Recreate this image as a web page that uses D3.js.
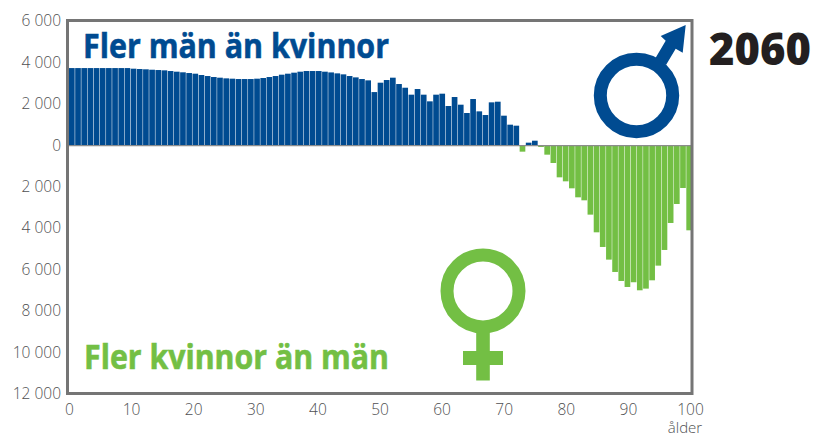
<!DOCTYPE html>
<html>
<head>
<meta charset="utf-8">
<script src="https://cdn.jsdelivr.net/npm/d3@7/dist/d3.min.js"></script>
<style>
body { margin: 0; background: #fff; }
text { font-family: "Open Sans", sans-serif; }
.tick text { font-size: 15.5px; font-weight: 300; fill: #4f5052; }
</style>
</head>
<body>
<div id="chart"></div>
<script>
// surplus per age 0-100, positive = more men, negative = more women
var ages = d3.range(0, 101);
var surplus = [
    3750, 3750, 3750, 3750, 3750, 3750, 3750, 3750, 3750, 3750,
    3720, 3704, 3690, 3670, 3655, 3640, 3607, 3575, 3545, 3510,
    3478, 3414, 3365, 3317, 3285, 3253, 3237, 3220, 3220, 3220,
    3237, 3269, 3317, 3365, 3430, 3478, 3527, 3575, 3607, 3607,
    3607, 3575, 3540, 3494, 3446, 3365, 3300, 3220, 3156, 2590,
    3043, 3172, 3285, 2979, 2800, 2464, 2737, 2464, 2142, 2464,
    2512, 1916, 2351, 1980, 1578, 2254, 1658, 1481, 2093, 2125,
    1449, 1014, 966, -290, 145, 240, -65, -435, -837, -1530,
    -1723, -2061, -2496, -2641, -3333, -4187, -4895, -5507, -6103, -6538,
    -6828, -6600, -6989, -6908, -6506, -5797, -5040, -3736, -2818, -2045,
    -4090
];
var yTicks = [6000, 4000, 2000, 0, -2000, -4000, -6000, -8000, -10000, -12000];
var xTicks = [0, 10, 20, 30, 40, 50, 60, 70, 80, 90, 100];

var width = 814, height = 437;
var blue = '#004b91', green = '#73bf44', frameCol = '#757575';

var svg = d3.select('#chart').append('svg').attr('width', width).attr('height', height).style('display', 'block');

var plotL = 69, plotR = 692, plotT = 21.5, plotB = 394;
var x = d3.scaleBand().domain(ages).range([plotL, plotR]).paddingInner(0.08).paddingOuter(0);
var xAxisScale = d3.scaleLinear().domain([0, 100]).range([69, 690]);
var y = d3.scaleLinear().domain([6000, -12000]).range([plotT, plotB]);

svg.append('g').selectAll('rect.bar').data(surplus).enter().append('rect')
    .attr('class', 'bar')
    .attr('x', function(d, i) { return x(ages[i]); })
    .attr('width', x.bandwidth())
    .attr('y', function(d) { return d > 0 ? y(d) : y(0); })
    .attr('height', function(d) { return Math.abs(y(d) - y(0)); })
    .attr('fill', function(d) { return d > 0 ? blue : green; });

// zero line
svg.append('line').attr('x1', plotL).attr('x2', plotR).attr('y1', y(0)).attr('y2', y(0))
    .attr('stroke', '#8c8c8c').attr('stroke-width', 1.2);

// frame goes over the bars, last bar is cut by it
svg.append('rect').attr('x', plotL - 1.5).attr('y', plotT - 1).attr('width', plotR - plotL + 1.5).attr('height', plotB - plotT + 0.5)
    .attr('fill', 'none').attr('stroke', frameCol).attr('stroke-width', 3);

var yAxis = d3.axisLeft(y).tickValues(yTicks).tickSize(0).tickPadding(7).tickFormat(function(d) {
    return d3.format(',')(Math.abs(d)).replace(',', ' ');
});
svg.append('g').attr('transform', 'translate(' + (plotL - 1) + ',-0.5)').call(yAxis).call(function(g) { g.select('.domain').remove(); });

var xAxis = d3.axisBottom(xAxisScale).tickValues(xTicks).tickSize(0).tickPadding(9).tickFormat(d3.format('d'));
svg.append('g').attr('transform', 'translate(0,' + (plotB + 0.5) + ')').call(xAxis).call(function(g) { g.select('.domain').remove(); });

svg.append('text').attr('x', 685).attr('y', 432.5).style('text-anchor', 'middle').style('font-size', '15px').style('font-weight', 300).attr('fill', '#4f5052').text('ålder');

// headings
svg.append('text').attr('x', 83).attr('y', 58).style('font-size', '34px').style('font-weight', 700).attr('stroke', blue).attr('stroke-width', 0.6).attr('textLength', 306).attr('lengthAdjust', 'spacingAndGlyphs').attr('fill', blue).text('Fler män än kvinnor');
svg.append('text').attr('x', 84).attr('y', 369).style('font-size', '34px').style('font-weight', 700).attr('stroke', green).attr('stroke-width', 0.6).attr('textLength', 305).attr('lengthAdjust', 'spacingAndGlyphs').attr('fill', green).text('Fler kvinnor än män');
svg.append('text').attr('x', 709).attr('y', 65).style('font-size', '44px').style('font-weight', 800).attr('textLength', 102).attr('lengthAdjust', 'spacingAndGlyphs').attr('fill', '#231f20').text('2060');

// male symbol
var male = svg.append('g');
male.append('circle').attr('cx', 636.5).attr('cy', 95.5).attr('r', 36.2).attr('fill', 'none').attr('stroke', blue).attr('stroke-width', 13);
male.append('path').attr('fill', blue).attr('d', 'M685.7,25 L660.7,36 L665.7,40.7 L655.5,58 L666,65 L675.7,48.7 L682.7,52.7 Z');

// female symbol
var female = svg.append('g');
female.append('circle').attr('cx', 483).attr('cy', 291).attr('r', 36).attr('fill', 'none').attr('stroke', green).attr('stroke-width', 13);
female.append('rect').attr('x', 476.2).attr('y', 330).attr('width', 13.6).attr('height', 50.5).attr('fill', green);
female.append('rect').attr('x', 463).attr('y', 351).attr('width', 40).attr('height', 14).attr('fill', green);
</script>
</body>
</html>
